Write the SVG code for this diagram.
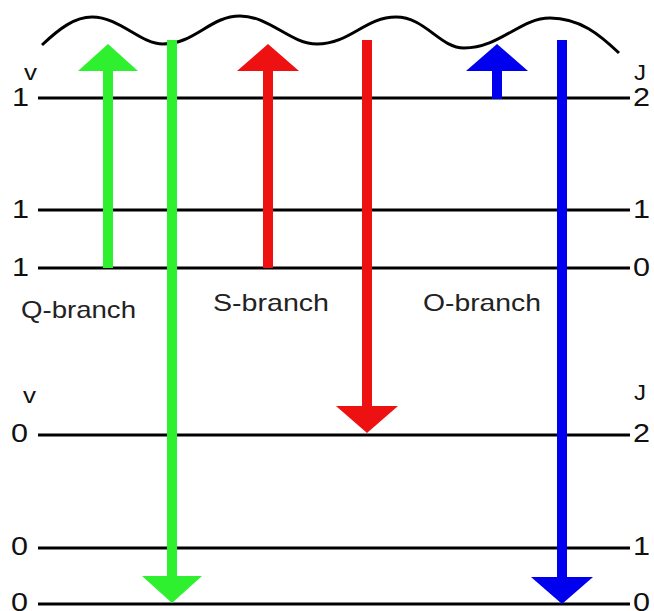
<svg xmlns="http://www.w3.org/2000/svg" width="654" height="611" viewBox="0 0 654 611">
  <style>
    .lvl { stroke: #000; stroke-width: 3; fill: none; }
    .num { font-family: "Liberation Sans", Arial, sans-serif; font-size: 25px; fill: #111; }
    .ax { font-family: "Liberation Sans", Arial, sans-serif; font-size: 22px; fill: #111; }
    .lbl { font-family: "Liberation Sans", Arial, sans-serif; font-size: 24px; fill: #222; }
    .g { stroke: #2ef02e; }
    .r { stroke: #ee1111; }
    .b { stroke: #0000ee; }
    .shaft { stroke-width: 10; fill: none; }
  </style>
  <defs>
    <marker id="headG" viewBox="0 -30 27 60" markerWidth="27" markerHeight="60" refX="1" refY="0" orient="auto" markerUnits="userSpaceOnUse">
      <path d="M0,-30 L27,0 L0,30 Z" fill="#2ef02e"/>
    </marker>
    <marker id="headR" viewBox="0 -31 27 62" markerWidth="27" markerHeight="62" refX="1" refY="0" orient="auto" markerUnits="userSpaceOnUse">
      <path d="M0,-31 L27,0 L0,31 Z" fill="#ee1111"/>
    </marker>
    <marker id="headB" viewBox="0 -31 27 62" markerWidth="27" markerHeight="62" refX="1" refY="0" orient="auto" markerUnits="userSpaceOnUse">
      <path d="M0,-31 L27,0 L0,31 Z" fill="#0000ee"/>
    </marker>
  </defs>
  <rect width="654" height="611" fill="#fff"/>

  <!-- virtual state -->
  <g id="virtual-state">
    <path d="M42,45 C60,28 75,17 92,17 C120,17 140,44 163,44 C195,44 210,16 240,16 C270,16 290,44 317,44 C350,44 365,17 396,17 C425,17 440,48 464,48 C500,48 520,18 550,18 C580,18 600,35 619,53" stroke="#000" stroke-width="3" fill="none"/>
  </g>

  <!-- axis headers -->
  <text class="ax" x="24" y="80" textLength="13" lengthAdjust="spacingAndGlyphs">v</text>
  <text class="ax" x="634" y="80" textLength="12" lengthAdjust="spacingAndGlyphs">J</text>
  <text class="ax" x="23" y="403" textLength="13" lengthAdjust="spacingAndGlyphs">v</text>
  <text class="ax" x="634" y="400" textLength="12" lengthAdjust="spacingAndGlyphs">J</text>

  <!-- rotational levels, v=1 -->
  <g id="level-v1-J2">
    <line class="lvl" x1="38" y1="98" x2="630" y2="98"/>
    <text class="num" x="12" y="106" textLength="17" lengthAdjust="spacingAndGlyphs">1</text>
    <text class="num" x="633" y="106" textLength="17" lengthAdjust="spacingAndGlyphs">2</text>
  </g>
  <g id="level-v1-J1">
    <line class="lvl" x1="38" y1="210" x2="630" y2="210"/>
    <text class="num" x="12" y="218" textLength="17" lengthAdjust="spacingAndGlyphs">1</text>
    <text class="num" x="633" y="218" textLength="17" lengthAdjust="spacingAndGlyphs">1</text>
  </g>
  <g id="level-v1-J0">
    <line class="lvl" x1="38" y1="268" x2="630" y2="268"/>
    <text class="num" x="12" y="276" textLength="17" lengthAdjust="spacingAndGlyphs">1</text>
    <text class="num" x="633" y="276" textLength="17" lengthAdjust="spacingAndGlyphs">0</text>
  </g>

  <!-- rotational levels, v=0 -->
  <g id="level-v0-J2">
    <line class="lvl" x1="38" y1="435" x2="630" y2="435"/>
    <text class="num" x="11" y="442" textLength="17" lengthAdjust="spacingAndGlyphs">0</text>
    <text class="num" x="633" y="442" textLength="17" lengthAdjust="spacingAndGlyphs">2</text>
  </g>
  <g id="level-v0-J1">
    <line class="lvl" x1="38" y1="548" x2="630" y2="548"/>
    <text class="num" x="11" y="555" textLength="17" lengthAdjust="spacingAndGlyphs">0</text>
    <text class="num" x="633" y="555" textLength="17" lengthAdjust="spacingAndGlyphs">1</text>
  </g>
  <g id="level-v0-J0">
    <line class="lvl" x1="38" y1="604" x2="630" y2="604"/>
    <text class="num" x="11" y="611" textLength="17" lengthAdjust="spacingAndGlyphs">0</text>
    <text class="num" x="633" y="611" textLength="17" lengthAdjust="spacingAndGlyphs">0</text>
  </g>

  <!-- branch labels -->
  <text class="lbl" x="21" y="318" textLength="115" lengthAdjust="spacingAndGlyphs">Q-branch</text>
  <text class="lbl" x="213" y="311" textLength="116" lengthAdjust="spacingAndGlyphs">S-branch</text>
  <text class="lbl" x="423" y="311" textLength="118" lengthAdjust="spacingAndGlyphs">O-branch</text>

  <!-- transitions -->
  <g id="transitions">
    <line class="shaft g" x1="108" y1="268" x2="108" y2="70" marker-end="url(#headG)"/>
    <line class="shaft g" x1="172" y1="40" x2="172" y2="577" marker-end="url(#headG)"/>
    <line class="shaft r" x1="268" y1="268" x2="268" y2="70" marker-end="url(#headR)"/>
    <line class="shaft r" x1="367" y1="40" x2="367" y2="407" marker-end="url(#headR)"/>
    <line class="shaft b" x1="497" y1="99" x2="497" y2="70" marker-end="url(#headB)"/>
    <line class="shaft b" x1="562" y1="40" x2="562" y2="578" marker-end="url(#headB)"/>
  </g>
</svg>
